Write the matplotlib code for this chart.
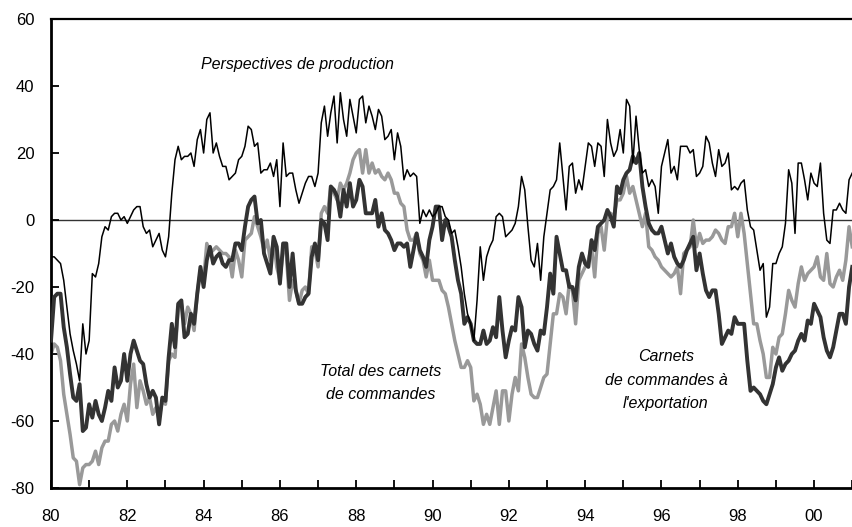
import numpy as np
import matplotlib
matplotlib.use("Agg")
import matplotlib.pyplot as plt
from matplotlib.ticker import MultipleLocator, FixedLocator

# Monthly series, Jan 1980 .. Jan 2001
start_year = 1980

perspectives_production = [
    -11, -11, -12, -13, -18, -26, -34, -39, -43, -48,
    -31, -40, -36, -16, -17, -13, -5, -2, -3, 1,
    2, 2, 0, 1, -1, 1, 3, 4, 4, -2,
    -4, -3, -8, -6, -4, -9, -11, -5, 8, 18,
    22, 18, 19, 19, 20, 16, 24, 27, 20, 30,
    32, 20, 23, 19, 16, 16, 12, 13, 14, 18,
    19, 22, 28, 27, 22, 23, 14, 15, 15, 17,
    13, 18, 4, 23, 13, 14, 14, 9, 5, 8,
    11, 13, 13, 10, 14, 29, 34, 25, 32, 37,
    23, 38, 30, 25, 36, 31, 26, 36, 37, 29,
    34, 31, 27, 33, 31, 24, 25, 27, 18, 26,
    22, 12, 15, 13, 14, 13, -1, 3, 1, 3,
    1, 2, 4, 4, 1, 0, -4, -3, -8, -14,
    -22, -28, -31, -36, -24, -8, -18, -11, -8, -6,
    1, 2, 1, -5, -4, -3, -1, 4, 13, 9,
    -2, -12, -14, -7, -18, -5, 2, 9, 10, 12,
    23, 13, 3, 16, 17, 8, 12, 9, 16, 23,
    22, 16, 23, 22, 13, 30, 23, 19, 21, 27,
    20, 36, 34, 17, 31, 21, 14, 15, 10, 12,
    10, 2, 16, 20, 24, 14, 16, 12, 22, 22,
    22, 20, 21, 13, 14, 16, 25, 23, 17, 13,
    21, 16, 17, 20, 9, 10, 9, 11, 12, 3,
    -2, -3, -9, -15, -13, -29, -26, -13, -13, -10,
    -8, -1, 15, 11, -4, 17, 17, 12, 6, 14,
    11, 10, 17, 2, -6, -7, 3, 3, 5, 3,
    2, 12, 14,
]

carnets_export = [
    -36, -23, -22, -22, -32, -38, -46, -53, -54, -49,
    -63, -62, -55, -59, -54, -58, -60, -56, -51, -54,
    -44, -50, -48, -40, -48, -40, -36, -39, -42, -43,
    -49, -53, -51, -53, -61, -53, -54, -41, -31, -38,
    -25, -24, -35, -34, -28, -31, -22, -14, -20, -12,
    -8, -13, -11, -10, -13, -14, -12, -12, -7, -7,
    -9, -2, 4, 6, 7, -1, 0, -10, -13, -16,
    -5, -8, -19, -7, -7, -20, -10, -21, -25, -25,
    -23, -22, -11, -7, -12, 0, -1, -6, 10, 9,
    7, 1, 9, 4, 11, 4, 6, 12, 10, 2,
    2, 2, 6, -2, 2, -3, -4, -6, -9, -7,
    -7, -8, -7, -14, -9, -4, -9, -11, -14, -6,
    -2, 4, 4, -6, 0, -2, -5, -12, -18, -22,
    -31, -29, -31, -36, -37, -37, -33, -37, -36, -32,
    -35, -23, -33, -41, -36, -32, -33, -23, -26, -38,
    -33, -34, -37, -39, -33, -34, -26, -16, -22, -5,
    -10, -15, -15, -20, -20, -24, -14, -10, -13, -14,
    -6, -9, -2, -1, 0, 3, 1, -2, 10, 8,
    12, 14, 15, 19, 17, 20, 10, 4, -1, -3,
    -4, -4, -2, -6, -10, -7, -11, -13, -14, -12,
    -9, -7, -5, -15, -10, -16, -21, -23, -21, -21,
    -28, -37, -35, -33, -34, -29, -31, -31, -31, -42,
    -51, -50, -51, -52, -54, -55, -52, -49, -44, -41,
    -45, -43, -42, -40, -39, -36, -34, -36, -30, -31,
    -25, -27, -29, -35, -39, -41, -38, -33, -28, -28,
    -31, -20, -14,
]

carnets_total = [
    -40, -37, -38, -42, -52, -58, -64, -71, -72, -79,
    -74, -73, -73, -72, -69, -73, -68, -66, -66, -61,
    -60, -63, -58, -55, -60, -49, -43, -56, -48, -51,
    -55, -53, -58, -56, -59, -54, -55, -42, -40, -41,
    -26, -25, -31, -26, -28, -33, -22, -15, -18, -7,
    -10, -9, -8, -9, -10, -10, -11, -17, -9, -12,
    -17, -6, -5, -4, 1, -2, -5, -9, -6, -12,
    -6, -14, -18, -9, -10, -24, -18, -21, -25, -21,
    -20, -22, -8, -9, -14, 2, 4, 2, 10, 8,
    6, 11, 9, 11, 14, 18, 20, 21, 14, 21,
    14, 17, 14, 15, 13, 12, 14, 12, 8, 8,
    5, 4, -3, -6, -6, -4, -10, -12, -17, -12,
    -18, -18, -18, -21, -22, -26, -31, -36, -40, -44,
    -44, -42, -44, -54, -52, -55, -61, -58, -61, -56,
    -51, -61, -51, -51, -60, -52, -47, -51, -37, -41,
    -47, -52, -53, -53, -50, -47, -46, -37, -28, -28,
    -22, -23, -28, -19, -21, -31, -18, -16, -14, -12,
    -8, -17, -4, -2, -9, 1, 2, 1, 6, 6,
    8, 13, 8, 10, 6, 2, -2, 2, -8, -9,
    -11, -12, -14, -15, -16, -17, -16, -14, -22, -10,
    -9, -8, 0, -8, -4, -7, -6, -6, -5, -3,
    -4, -6, -7, -2, -2, 2, -5, 2, -4, -13,
    -22, -31, -31, -36, -40, -47, -47, -38, -40, -35,
    -34, -28, -21, -24, -26, -19, -14, -18, -16, -15,
    -14, -11, -17, -18, -10, -19, -20, -17, -15, -18,
    -12, -2, -8,
]

year_ticks = list(range(1980, 2001, 2))
year_labels = ["80", "82", "84", "86", "88", "90", "92", "94", "96", "98", "00"]
y_ticks = [-80, -60, -40, -20, 0, 20, 40, 60]

label_prod = "Perspectives de production"
label_total = "Total des carnets\nde commandes"
label_export = "Carnets\nde commandes à\nl'exportation"

plt.rcParams['font.family'] = ['Liberation Sans', 'DejaVu Sans']

fig = plt.figure(figsize=(8.53, 5.27), dpi=100)
ax = fig.add_axes([51 / 853, 39 / 527, 802 / 853, 469 / 527])

n = len(perspectives_production)
x = start_year + np.arange(n) / 12.0

ax.axhline(0, color="#333333", lw=1.0, zorder=1)
ax.plot(x, carnets_total, color="#999999", lw=2.5, zorder=2)
ax.plot(x, carnets_export, color="#333333", lw=2.8, zorder=3)
ax.plot(x, perspectives_production, color="black", lw=1.1, zorder=4)

ax.set_xlim(1980, 2001.02)
ax.set_ylim(-80, 60)

ax.xaxis.set_major_locator(FixedLocator(year_ticks))
ax.set_xticklabels(year_labels)
ax.xaxis.set_minor_locator(MultipleLocator(1))
ax.yaxis.set_major_locator(FixedLocator(y_ticks))
ax.set_yticklabels([str(v) for v in y_ticks])

ax.tick_params(axis="x", which="both", direction="in", length=6, width=1.3, pad=15, labelsize=12)
ax.tick_params(axis="y", which="both", direction="in", length=6, width=1.3, pad=12, labelsize=12)

ax.spines["right"].set_visible(False)
ax.spines["top"].set_linewidth(1.6)
ax.spines["left"].set_linewidth(2.0)
ax.spines["bottom"].set_linewidth(2.0)

ax.text(1986.47, 46.3, label_prod, style="italic", fontsize=11.5, ha="center", va="center")
ax.text(1988.65, -48.7, label_total, style="italic", fontsize=11.5, ha="center", va="center", linespacing=1.7)
ax.text(1996.12, -47.8, label_export, style="italic", fontsize=11.5, ha="center", va="center", linespacing=1.7)

fig.savefig("out.png", dpi=100)
